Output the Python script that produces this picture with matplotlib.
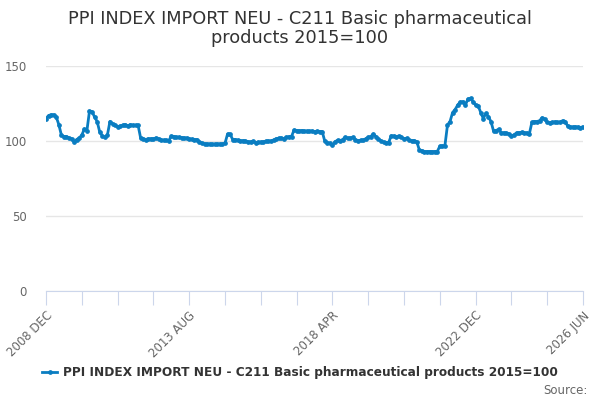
import matplotlib.pyplot as plt
import pandas as pd

# monthly index values, 2008 DEC .. 2026 JUN
values = [
    115, 117, 117.5, 117.5, 116, 111, 104, 103, 103, 102,
    101.5, 99.5, 101, 102, 104, 108, 107, 120, 119.5, 116,
    113, 106, 103.5, 102.5, 104, 113, 111.5, 110.5, 109.5, 110,
    110.5, 111, 110, 111, 110.5, 110.5, 110.5, 102, 101.5, 101,
    101.5, 101.5, 101.5, 102, 101.5, 100.7, 100.5, 100.5, 100.2, 103.3,
    103, 102.5, 102.5, 102.3, 102, 102, 101.5, 101.2, 101, 101,
    99.5, 98.5, 98.2, 98, 98, 97.8, 97.8, 98, 98, 98,
    98.5, 104.7, 104.5, 101, 101, 100.5, 100.2, 100.2, 100, 99.5,
    99.5, 99.8, 99, 99.2, 99.3, 99.5, 99.8, 100, 100, 100.7,
    101.5, 101.8, 102, 101.5, 102.5, 102.9, 103, 107.3, 107, 106.8,
    107, 106.7, 106.5, 106.5, 106.7, 106.3, 106.5, 106.3, 106.3, 100,
    99, 98.5, 97.3, 99.5, 100.5, 100.2, 101, 102.5, 101.8, 102,
    102.4, 101, 100.2, 100.5, 100.5, 101.5, 102.5, 103, 104.7, 103,
    101.5, 100, 99.2, 99, 99, 103.5, 103.3, 103, 103.3, 102.5,
    101.5, 101.8, 100.5, 100.2, 100.2, 99.5, 94, 93.5, 93, 93,
    93, 92.9, 93, 93, 96.5, 96.7, 97, 110.7, 113, 119,
    121, 124, 126, 126.2, 124, 128, 128.4, 126.2, 124, 123.5,
    119, 115, 118.4, 116.2, 113, 106.7, 107, 107.8, 105.5, 105.5,
    105.3, 104.8, 103.5, 104, 105.5, 105.5, 105.8, 105.5, 105.5, 104.7,
    112.4, 113, 113, 113.5, 115.5, 114.5, 112.4, 112.2, 112.4, 112.8,
    112.4, 112.6, 113.5, 113, 110, 109.5, 109.3, 109.5, 109.3, 109,
    109.5,
]
months = pd.period_range('2008-12', '2026-06', freq='M')
month_labels = [m.strftime('%Y %b').upper() for m in months]
label_every = 56
tick_every = 14
series_name = 'PPI INDEX IMPORT NEU - C211 Basic pharmaceutical products 2015=100'

plt.rcParams['font.family'] = 'DejaVu Sans'
fig = plt.figure(figsize=(6, 4), dpi=100)
ax = fig.add_axes([0.0767, 0.2725, 0.895, 0.5625])

x = list(range(len(values)))
ax.plot(x, values, color='#0a7dc1', lw=2, marker='o', ms=2.4, zorder=3)

ax.set_xlim(0, len(values) - 1)
ax.set_ylim(0, 150)
ax.set_yticks([0, 50, 100, 150])
ax.grid(axis='y', color='#e6e6e6', lw=1)
ax.set_axisbelow(True)

ticks = list(range(0, len(values), tick_every))
ax.set_xticks(ticks)
ax.set_xticklabels([month_labels[t] if (t % label_every == 0 or t == len(values) - 1) else ''
                    for t in ticks], rotation=45, ha='right', rotation_mode='anchor')

for s in ['top', 'right', 'left']:
    ax.spines[s].set_visible(False)
ax.spines['bottom'].set_color('#ccd6eb')
ax.tick_params(axis='x', colors='#ccd6eb', length=10, labelcolor='#666666', labelsize=8.5, pad=3)
ax.tick_params(axis='y', length=0, labelcolor='#666666', labelsize=8.5, pad=14)

fig.text(0.5, 0.975, 'PPI INDEX IMPORT NEU - C211 Basic pharmaceutical\nproducts 2015=100',
         ha='center', va='top', fontsize=12.8, color='#333333', linespacing=1.1)

leg = ax.legend([ax.lines[0]], [series_name], loc='upper center', bbox_to_anchor=(0.473, -0.285),
                frameon=False, handlelength=1.2, handletextpad=0.5,
                prop={'weight': 'bold', 'size': 8.7})
for t in leg.get_texts():
    t.set_color('#333333')

fig.text(0.98, 0.0225, 'Source:', ha='right', va='center', fontsize=8.5, color='#666666')

fig.savefig('out.png', dpi=100)
